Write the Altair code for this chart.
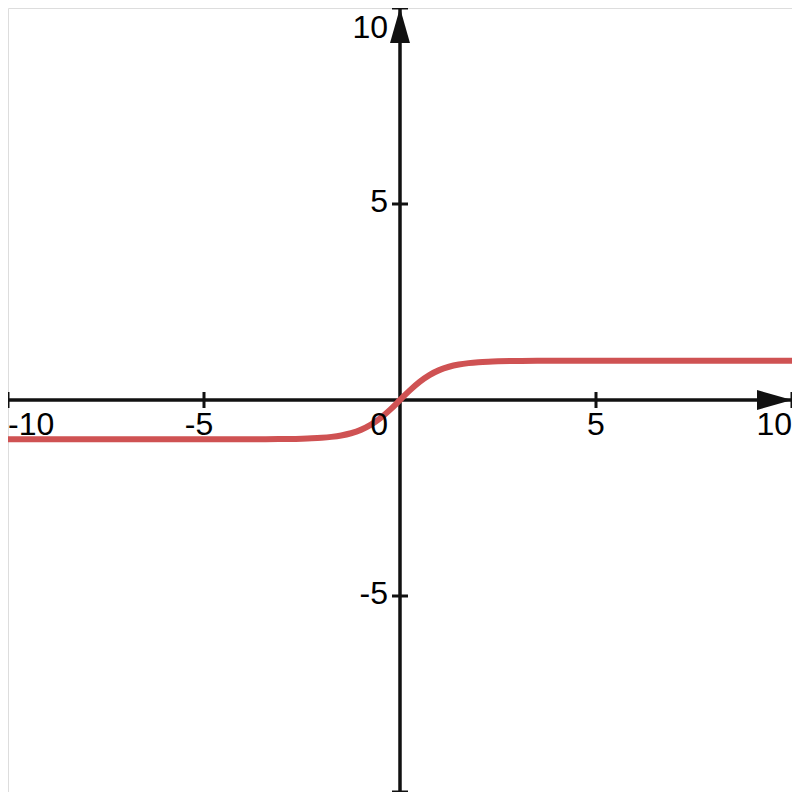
import altair as alt
import pandas as pd

# curve values
curve_x = [-10, -5, -4, -3.5, -3, -2.5, -2.25, -2, -1.75, -1.5, -1.25, -1, -0.75, -0.5, -0.25, 0,
           0.25, 0.5, 0.75, 1, 1.25, 1.5, 1.75, 2, 2.25, 2.5, 3, 3.5, 4, 5, 10]
curve_y = [-1.0, -1.0, -1.0, -1.0, -0.995, -0.987, -0.978, -0.964, -0.941, -0.905, -0.848, -0.762, -0.635,
           -0.462, -0.245, 0,
           0.245, 0.462, 0.635, 0.762, 0.848, 0.905, 0.941, 0.964, 0.978, 0.987, 0.995, 1.0, 1.0, 1.0, 1.0]

x_ticks = [-10, -5, 5, 10]
y_ticks = [-10, -5, 5, 10]
x_labels = ["-10", "-5", "5", "10"]
y_labels = ["10", "5", "-5"]
y_label_vals = [10, 5, -5]

W = H = 784
DOM = [-10, 10]
AX = "#111111"

xs = alt.Scale(domain=DOM, nice=False, zero=False)
ys = alt.Scale(domain=DOM, nice=False, zero=False)

curve_df = pd.DataFrame({"x": curve_x, "y": curve_y})
zero_df = pd.DataFrame({"v": [0]})

x_axis_line = alt.Chart(zero_df).mark_rule(color=AX, strokeWidth=3.5).encode(
    y=alt.Y("v:Q", scale=ys, axis=None),
    x=alt.value(0), x2=alt.value(W),
)
y_axis_line = alt.Chart(zero_df).mark_rule(color=AX, strokeWidth=3.5).encode(
    x=alt.X("v:Q", scale=xs, axis=None),
    y=alt.value(0), y2=alt.value(H),
)

xt_df = pd.DataFrame({"x": x_ticks, "y": [0] * len(x_ticks)})
yt_df = pd.DataFrame({"y": y_ticks, "x": [0] * len(y_ticks)})

x_tick_marks = alt.Chart(xt_df).mark_tick(orient="vertical", size=16, thickness=3, color=AX, opacity=1).encode(
    x=alt.X("x:Q", scale=xs, axis=None), y=alt.Y("y:Q", scale=ys, axis=None)
)
y_tick_marks = alt.Chart(yt_df).mark_tick(orient="horizontal", size=16, thickness=3, color=AX, opacity=1).encode(
    x=alt.X("x:Q", scale=xs, axis=None), y=alt.Y("y:Q", scale=ys, axis=None)
)

curve = alt.Chart(curve_df).mark_line(color="#cf5253", strokeWidth=6, interpolate="monotone", clip=True).encode(
    x=alt.X("x:Q", scale=xs, axis=None),
    y=alt.Y("y:Q", scale=ys, axis=None),
)

arrow_up = alt.Chart(pd.DataFrame({"x": [0], "y": [10]})).mark_point(
    shape="M0,-1L0.57,1L-0.57,1Z", size=1225, filled=True, color=AX, opacity=1, yOffset=17.5
).encode(x=alt.X("x:Q", scale=xs, axis=None), y=alt.Y("y:Q", scale=ys, axis=None))

arrow_right = alt.Chart(pd.DataFrame({"x": [10], "y": [0]})).mark_point(
    shape="M1,0L-1,0.57L-1,-0.57Z", size=1225, filled=True, color=AX, opacity=1, xOffset=-17.5
).encode(x=alt.X("x:Q", scale=xs, axis=None), y=alt.Y("y:Q", scale=ys, axis=None))

FONT = "Liberation Sans"
FS = 32

def xlab(val, text, align, dx):
    return alt.Chart(pd.DataFrame({"x": [val], "y": [0], "t": [text]})).mark_text(
        font=FONT, fontSize=FS, align=align, baseline="alphabetic", dx=dx, dy=35, color="#000"
    ).encode(x=alt.X("x:Q", scale=xs, axis=None), y=alt.Y("y:Q", scale=ys, axis=None), text="t:N")

x_text = [
    xlab(x_ticks[0], x_labels[0], "left", 0),
    xlab(x_ticks[1], x_labels[1], "center", -5),
    xlab(x_ticks[2], x_labels[2], "center", 0),
    xlab(x_ticks[3], x_labels[3], "right", 0),
    xlab(0, "0", "right", -12),
]

def ylab(val, text, dy):
    return alt.Chart(pd.DataFrame({"x": [0], "y": [val], "t": [text]})).mark_text(
        font=FONT, fontSize=FS, align="right", baseline="middle", dx=-12, dy=dy, color="#000"
    ).encode(x=alt.X("x:Q", scale=xs, axis=None), y=alt.Y("y:Q", scale=ys, axis=None), text="t:N")

y_text = [
    ylab(y_label_vals[0], y_labels[0], 20),
    ylab(y_label_vals[1], y_labels[1], -2),
    ylab(y_label_vals[2], y_labels[2], -2),
]

chart = alt.layer(
    x_axis_line, y_axis_line, x_tick_marks, y_tick_marks, curve, arrow_up, arrow_right,
    *x_text, *y_text
).properties(width=W, height=H, padding=0, autosize=alt.AutoSizeParams(type="none")).configure_view(
    stroke=None
).configure(background="white")

chart.save("out.html", embed_options={"renderer": "svg", "actions": False})
